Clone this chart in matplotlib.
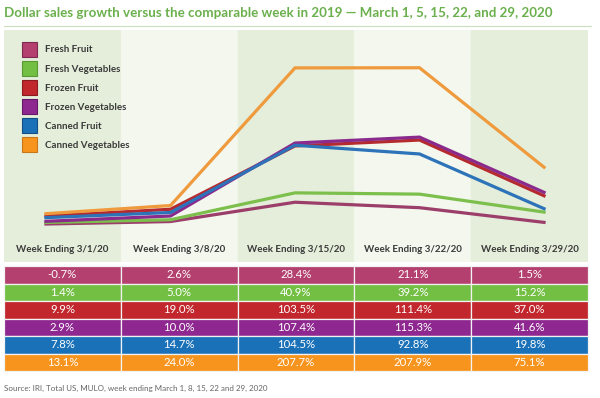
import matplotlib
matplotlib.use("Agg")
import matplotlib.pyplot as plt
from matplotlib.patches import Patch, Rectangle
from matplotlib.lines import Line2D

# --------------------------
# Data
# --------------------------
weeks = ["Week Ending 3/1/20", "Week Ending 3/8/20", "Week Ending 3/15/20",
         "Week Ending 3/22/20", "Week Ending 3/29/20"]
categories = ["Fresh Fruit", "Fresh Vegetables", "Frozen Fruit",
              "Frozen Vegetables", "Canned Fruit", "Canned Vegetables"]
fresh_fruit = [-0.7, 2.6, 28.4, 21.1, 1.5]
fresh_vegetables = [1.4, 5.0, 40.9, 39.2, 15.2]
frozen_fruit = [9.9, 19.0, 103.5, 111.4, 37.0]
frozen_vegetables = [2.9, 10.0, 107.4, 115.3, 41.6]
canned_fruit = [7.8, 14.7, 104.5, 92.8, 19.8]
canned_vegetables = [13.1, 24.0, 207.7, 207.9, 75.1]

title = "Dollar sales growth versus the comparable week in 2019 \u2014 March 1, 5, 15, 22, and 29, 2020"
source = "Source: IRI, Total US, MULO, week ending March 1, 8, 15, 22 and 29, 2020"

# --------------------------
# Styles
# --------------------------
line_colors = ["#9c3e6a", "#7cbf4c", "#b52a2e", "#8a2a8d", "#2c73b9", "#ef9a3d"]
cell_colors = ["#b3406e", "#72bf44", "#c1272d", "#8e278f", "#1a71b8", "#f7941d"]
edge_colors = ["#7d2a4f", "#5a9a34", "#8a1c20", "#66186a", "#134f85", "#c9761a"]
bg_dark = "#e4eeda"
bg_light = "#f3f7ee"
text_dark = "#3a3a3a"

plt.rcParams['font.family'] = ['Lato', 'DejaVu Sans']

series = [fresh_fruit, fresh_vegetables, frozen_fruit,
          frozen_vegetables, canned_fruit, canned_vegetables]

W, H = 600, 398
fig = plt.figure(figsize=(6, 3.98), dpi=100)
fig.patch.set_facecolor("white")

# title + rule
fig.text(4 / W, 1 - 13 / H, title, color="#6ab04c", fontsize=9.6,
         fontweight="bold", ha="left", va="center")
fig.add_artist(Line2D([4 / W, 591 / W], [1 - 26 / H, 1 - 26 / H],
                      color="#cfe0c2", lw=0.9))

# --------------------------
# Chart panel
# --------------------------
ax = fig.add_axes([4 / W, (H - 262) / H, 584 / W, 232 / H])
ax.set_xlim(-0.337, 4.353)
ax.set_ylim(-51.4, 258.3)
for spine in ax.spines.values():
    spine.set_visible(False)
ax.set_xticks([])
ax.set_yticks([])

for i in range(len(weeks)):
    ax.add_patch(Rectangle((i / 5, 0), 1 / 5, 1, transform=ax.transAxes,
                           color=bg_dark if i % 2 == 0 else bg_light, zorder=0))
    ax.text((i + 0.5) / 5, 0.056, weeks[i], transform=ax.transAxes,
            ha="center", va="center", fontsize=7, fontweight="bold",
            color=text_dark)

x = list(range(len(weeks)))
draw_order = [0, 1, 4, 2, 3, 5]
for k in draw_order:
    ax.plot(x, series[k], color=line_colors[k], lw=2.3,
            solid_joinstyle="miter", zorder=2 + k)

handles = [Patch(facecolor=cell_colors[k], edgecolor=edge_colors[k], lw=0.8)
           for k in range(len(categories))]
leg = ax.legend(handles, categories, loc="upper left",
                bbox_to_anchor=(18 / 584, 1 - 12 / 232), frameon=False,
                handlelength=1.55, handleheight=1.95, handletextpad=0.85,
                labelspacing=0.45, borderaxespad=0, borderpad=0,
                prop={"size": 7, "weight": "bold"})
for t in leg.get_texts():
    t.set_color(text_dark)

# --------------------------
# Value table
# --------------------------
tax = fig.add_axes([4 / W, (H - 371) / H, 584 / W, 105 / H])
tax.axis("off")
cell_text = [[f"{v:.1f}%" for v in s] for s in series]
cell_cols = [[cell_colors[k]] * len(weeks) for k in range(len(series))]
tbl = tax.table(cellText=cell_text, cellColours=cell_cols,
                cellLoc="center", bbox=[0, 0, 1, 1])
tbl.auto_set_font_size(False)
for (r, c), cell in tbl.get_celld().items():
    cell.set_edgecolor("#f2f2f2")
    cell.set_linewidth(0.9)
    cell.get_text().set_color("white")
    cell.get_text().set_fontsize(8.2)

fig.text(4 / W, 1 - 388 / H, source, color="#666666", fontsize=5.8,
         ha="left", va="center")

fig.savefig("out.png", dpi=100, facecolor="white")
